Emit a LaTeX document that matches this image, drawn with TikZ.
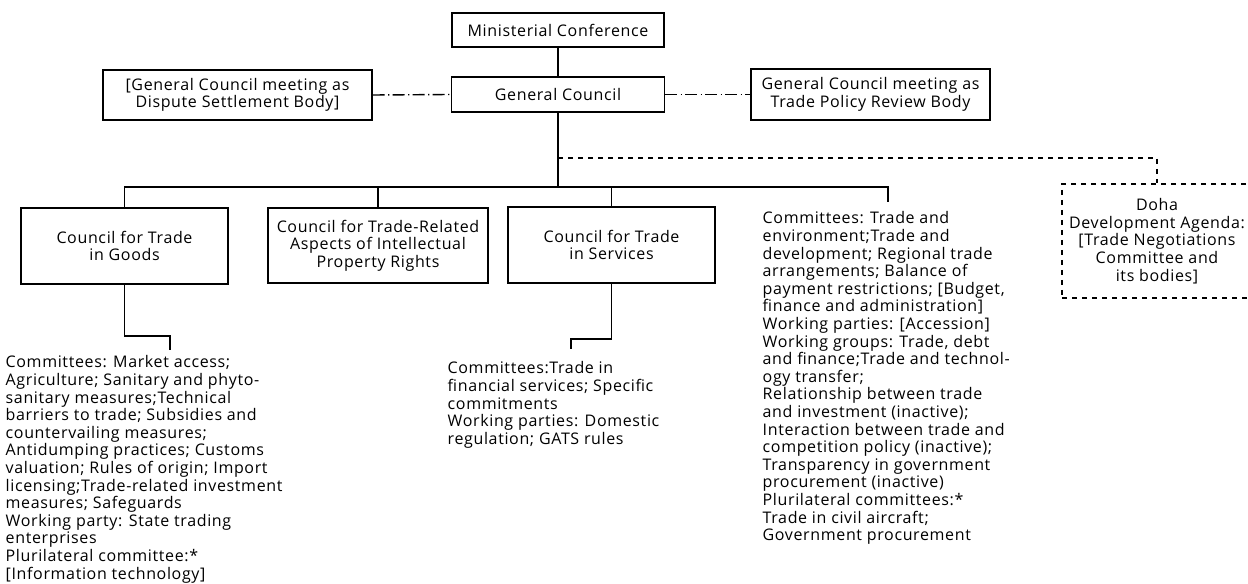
\documentclass[tikz,border=0pt]{standalone}
\usepackage{fontspec}
\setmainfont{Open Sans}[LetterSpace=4]
\begin{document}
\begin{tikzpicture}[x=0.75pt,y=-0.75pt, line width=1.05pt,
  box/.style={draw, line width=1.05pt, inner sep=0pt, align=center, font=\fontsize{12}{13.2}\selectfont},
  list/.style={inner sep=0pt, align=left, anchor=north west, font=\fontsize{12}{13.2}\selectfont},
  dashdot/.style={dash pattern=on 9pt off 2.5pt on 1pt off 2.5pt},
  dsh/.style={dash pattern=on 4pt off 3.5pt}]
\useasboundingbox (0,0) rectangle (1248,584);
\fill[white] (0,0) rectangle (1248,584);

\node[box, minimum width=159pt, minimum height=25.5pt] (mc) at (558,30) {Ministerial Conference};
\node[box, minimum width=159.75pt, minimum height=26.25pt] (gc) at (558,94.5) {General Council};
\node[box, minimum width=201.75pt, minimum height=37.5pt] (dsb) at (237.5,95) {[General Council meeting as\\Dispute Settlement Body]};
\node[box, minimum width=179.25pt, minimum height=38.25pt] (tprb) at (870.5,94.5) {General Council meeting as\\Trade Policy Review Body};

\node[box, minimum width=155.25pt, minimum height=57pt] (goods) at (124.5,246) {Council for Trade\\in Goods};
\node[box, minimum width=165pt, minimum height=56.25pt] (trips) at (378,245.5) {Council for Trade-Related\\Aspects of Intellectual\\Property Rights};
\node[box, minimum width=155.25pt, minimum height=57pt] (services) at (611.5,245) {Council for Trade\\in Services};
\node[box, dsh, minimum width=142.5pt, minimum height=85.5pt] (doha) at (1157,241) {Doha\\Development Agenda:\\{}[Trade Negotiations\\Committee and\\its bodies]};

\coordinate (bus) at (558,187);
\coordinate (ctop) at (888,202);
\coordinate (dj) at (558,158);
\coordinate (gturn) at (170,336);
\coordinate (gend) at (170,350);
\coordinate (sturn) at (571,339);
\coordinate (send) at (571,349);

\draw (mc.south) -- (gc.north);
\draw[dashdot] (dsb.east) -- (gc.west);
\draw[dashdot] (gc.east) -- (tprb.west);
\draw (gc.south) -- (bus);
\draw (goods.north) |- (bus) -| (ctop);
\draw (trips.north) -- (trips.north |- bus);
\draw (services.north) -- (services.north |- bus);
\draw[dsh] (dj) -| (doha.north);
\draw (goods.south) |- (gturn) -- (gend);
\draw (services.south) |- (sturn) -- (send);

\node[list] (glist) at (5,355) {Committees: Market access;\\
Agriculture; Sanitary and phyto-\\
sanitary measures;Technical\\
barriers to trade; Subsidies and\\
countervailing measures;\\
Antidumping practices; Customs\\
valuation; Rules of origin; Import\\
licensing;Trade-related investment\\
measures; Safeguards\\
Working party: State trading\\
enterprises\\
Plurilateral committee:*\\{}[Information technology]};

\node[list] (slist) at (447,361) {Committees:Trade in\\
financial services; Specific\\
commitments\\
Working parties: Domestic\\
regulation; GATS rules};

\node[list] (clist) at (762,211) {Committees: Trade and\\
environment;Trade and\\
development; Regional trade\\
arrangements; Balance of\\
payment restrictions; [Budget,\\
finance and administration]\\
Working parties: [Accession]\\
Working groups: Trade, debt\\
and finance;Trade and technol-\\
ogy transfer;\\
Relationship between trade\\
and investment (inactive);\\
Interaction between trade and\\
competition policy (inactive);\\
Transparency in government\\
procurement (inactive)\\
Plurilateral committees:*\\
Trade in civil aircraft;\\
Government procurement};
\end{tikzpicture}
\end{document}
